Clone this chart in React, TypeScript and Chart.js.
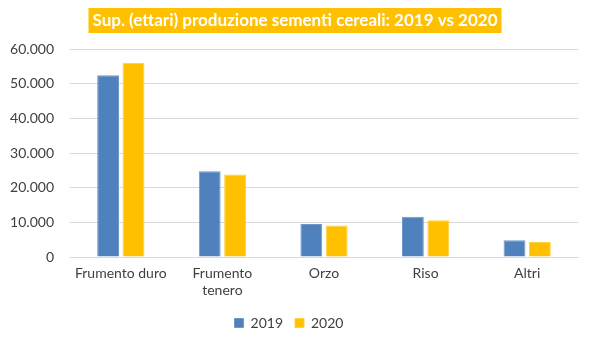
import React, { useEffect, useRef } from "react";
import { Chart, registerables } from "chart.js";

Chart.register(...registerables);

const categories: (string | string[])[] = ["Frumento duro", ["Frumento", "tenero"], "Orzo", "Riso", "Altri"];
const values2019 = [52400, 24700, 9500, 11600, 4800];
const values2020 = [56000, 23800, 9100, 10600, 4300];
const seriesLabels = ["2019", "2020"];
const titleText = "Sup. (ettari) produzione sementi cereali: 2019 vs 2020";

const FONT = "Lato, 'Open Sans', sans-serif";

const titlePlugin = {
  id: "boxTitle",
  afterDraw(chart: any) {
    const ctx = chart.ctx;
    ctx.save();
    ctx.font = `bold 17px ${FONT}`;
    const w = ctx.measureText(titleText).width;
    const cx = 295;
    const cy = 20;
    ctx.fillStyle = "#FFC000";
    ctx.fillRect(cx - w / 2 - 4, 8, w + 8, 25);
    ctx.fillStyle = "#ffffff";
    ctx.textAlign = "center";
    ctx.textBaseline = "middle";
    ctx.fillText(titleText, cx, cy + 1);
    ctx.restore();
  },
};

export default function App() {
  const ref = useRef<HTMLCanvasElement>(null);
  useEffect(() => {
    if (!ref.current) return;
    const chart = new Chart(ref.current, {
      type: "bar",
      data: {
        labels: categories as any,
        datasets: [
          {
            label: seriesLabels[0],
            data: values2019,
            backgroundColor: "#4F81BD",
            borderColor: "#6F98CB",
            borderWidth: 1,
            categoryPercentage: 0.5,
            barPercentage: 0.86,
          },
          {
            label: seriesLabels[1],
            data: values2020,
            backgroundColor: "#FFC000",
            borderColor: "#FFD040",
            borderWidth: 1,
            categoryPercentage: 0.5,
            barPercentage: 0.86,
          },
        ],
      },
      options: {
        animation: false,
        responsive: false,
        layout: { padding: { left: 0, right: 12, top: 49, bottom: 4 } },
        scales: {
          x: {
            grid: { display: false },
            border: { color: "#d9d9d9", width: 1 },
            ticks: {
              color: "#404040",
              font: { family: FONT, size: 14 },
              maxRotation: 0,
              autoSkip: false,
              padding: 0,
            },
            afterFit(axis: any) {
              axis.height = 47;
            },
          },
          y: {
            min: 0,
            max: 60000,
            grid: { color: "#d9d9d9", drawTicks: false },
            border: { display: false },
            ticks: {
              stepSize: 10000,
              color: "#404040",
              font: { family: FONT, size: 14 },
              padding: 16,
              callback: (v: any) => Number(v).toLocaleString("de-DE"),
            },
            afterFit(axis: any) {
              axis.width = 70;
            },
          },
        },
        plugins: {
          legend: {
            position: "bottom",
            labels: {
              color: "#404040",
              font: { family: FONT, size: 14 },
              boxWidth: 9,
              boxHeight: 9,
              padding: 12,
            },
          },
          tooltip: { enabled: false },
        },
      },
      plugins: [titlePlugin],
    });
    return () => chart.destroy();
  }, []);
  return (
    <div style={{ position: "fixed", left: 0, top: 0, width: 590, height: 344, background: "#fff" }}>
      <canvas ref={ref} width={590} height={344} />
    </div>
  );
}
